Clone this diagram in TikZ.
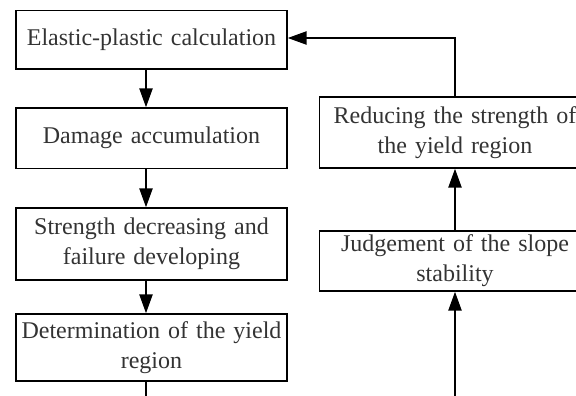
\documentclass[tikz,border=0pt]{standalone}
\usepackage{fontspec}
\setmainfont{Liberation Serif}
\usetikzlibrary{arrows.meta}
\definecolor{txt}{HTML}{333333}
\tikzset{
  box/.style={draw=black, line width=1.3pt, rectangle, minimum width=271pt, text width=266pt,
    align=center, inner sep=0pt, text=txt, font=\fontsize{24}{30}\selectfont},
  flow/.style={line width=2.3pt, -{Triangle[length=19pt,width=13pt]}},
  plain/.style={line width=2.3pt}
}
\begin{document}
\begin{tikzpicture}[x=1pt,y=-1pt]
\useasboundingbox (0,0) rectangle (576,396);
\clip (0,0) rectangle (576,396);
\node[box, minimum height=58.5pt] (b1) at (151.5,39.75) {Elastic-plastic calculation};
\node[box, minimum height=60.5pt] (b2) at (151.5,138.25) {Damage accumulation};
\node[box, minimum height=72pt] (b3) at (151.5,244) {Strength decreasing and\\failure developing};
\node[box, minimum height=67pt] (b4) at (151.5,347.5) {Determination of the yield\\region};
\node[box, minimum height=71pt] (r1) at (455,132.5) {Reducing the strength of\\the yield region};
\node[box, minimum height=60pt] (r2) at (455,261) {Judgement of the slope\\stability};
\coordinate (lend) at (146,398);
\coordinate (rstart) at (455,398);
\coordinate (turn) at (455,38);
\draw[flow] ([xshift=-5.5pt]b1.south) -- ([xshift=-5.5pt]b2.north);
\draw[flow] ([xshift=-5.5pt]b2.south) -- ([xshift=-5.5pt]b3.north);
\draw[flow] ([xshift=-5.5pt]b3.south) -- ([xshift=-5.5pt]b4.north);
\draw[plain] ([xshift=-5.5pt]b4.south) -- (lend);
\draw[flow] (rstart) -- (r2.south);
\draw[flow] (r2.north) -- (r1.south);
\draw[flow] (r1.north) -- (turn) -- (b1.east |- turn);
\end{tikzpicture}
\end{document}
